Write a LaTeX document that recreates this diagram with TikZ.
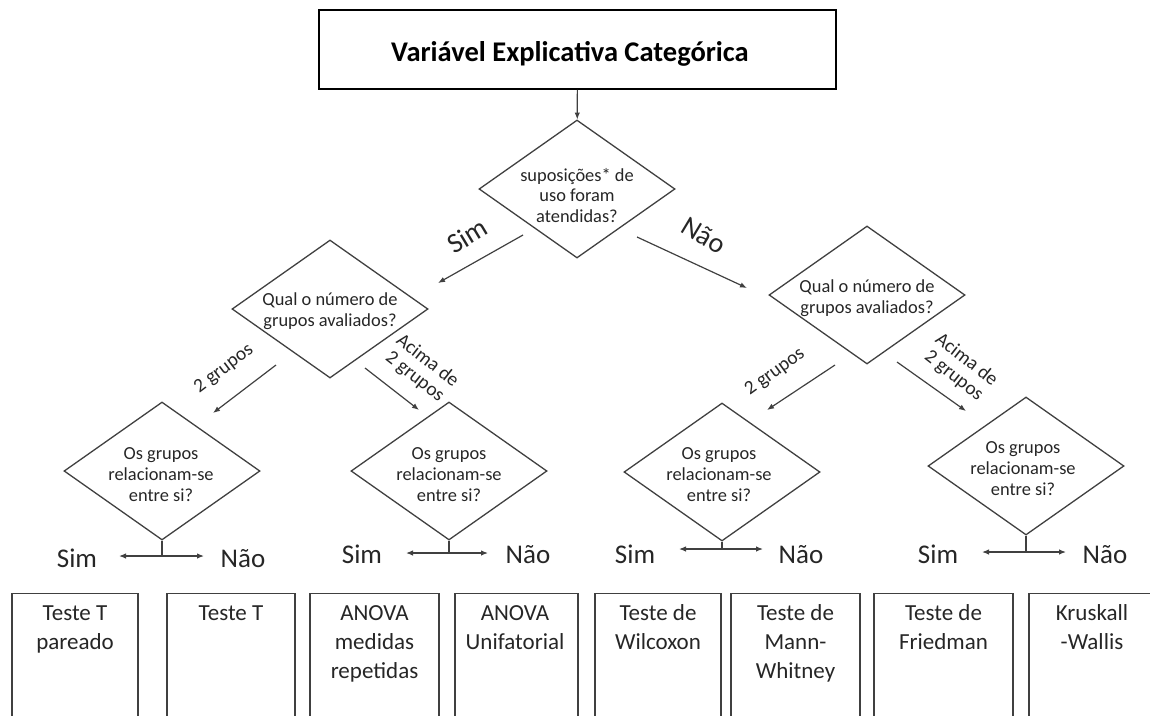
\documentclass[tikz,border=0pt]{standalone}
\usepackage{fontspec}
\setmainfont{Carlito}
\usetikzlibrary{shapes.geometric,arrows.meta}
\definecolor{ln}{HTML}{404040}
\definecolor{tx}{HTML}{262626}
\begin{document}
\begin{tikzpicture}[x=1pt,y=-1pt,
  dia/.style={draw=ln, line width=1.3pt, diamond, inner sep=0pt, minimum width=196pt, minimum height=138pt},
  dtxt/.style={text=tx, align=center, inner sep=0pt, anchor=north, font=\fontsize{18.4}{21.3}\selectfont},
  lbl/.style={text=tx, inner sep=0pt, align=center, font=\fontsize{19.5}{20.5}\selectfont},
  yn/.style={text=tx, inner sep=0pt, anchor=base, font=\fontsize{27}{30}\selectfont},
  ynrot/.style={text=tx, inner sep=0pt, font=\fontsize{28}{30}\selectfont},
  arr/.style={draw=ln, line width=1.2pt, -{Latex[length=7pt,width=5.5pt]}},
  stem/.style={draw=ln, line width=1.3pt},
  res/.style={draw=ln, line width=1.4pt, anchor=north, minimum height=150pt, inner sep=0pt},
  btxt/.style={text=tx, align=center, inner sep=0pt, anchor=north, font=\fontsize{23}{29}\selectfont}
]
\useasboundingbox (0,0) rectangle (1150,715);
\clip (0,0) rectangle (1150,715);

% top box
\node[draw=black, line width=1.6pt, minimum width=517pt, minimum height=79pt, inner sep=0pt] (top) at (577.5,49.5) {};
\node[anchor=base, inner sep=0pt, font=\fontsize{28.5}{30}\selectfont\bfseries] (title) at (570,61) {Variável Explicativa Categórica};

% diamonds
\node[dia] (d1) at (577,189) {};
\node[dia] (d2l) at (330,309) {};
\node[dia] (d2r) at (867,295) {};
\node[dia] (d3a) at (162,471) {};
\node[dia] (d3b) at (449,471) {};
\node[dia] (d3c) at (722,472) {};
\node[dia] (d3d) at (1026,466) {};

% diamond texts
\node[dtxt, font=\fontsize{18.4}{20.6}\selectfont] (t1) at (577,166.5) {\strut suposições* de\\uso foram\\atendidas?};
\node[dtxt] (t2l) at (330,290) {\strut Qual o número de\\grupos avaliados?};
\node[dtxt] (t2r) at (867,277) {\strut Qual o número de\\grupos avaliados?};
\node[dtxt] (t3a) at (161,444) {\strut Os grupos\\relacionam-se\\entre si?};
\node[dtxt] (t3b) at (449,444) {\strut Os grupos\\relacionam-se\\entre si?};
\node[dtxt] (t3c) at (719,444) {\strut Os grupos\\relacionam-se\\entre si?};
\node[dtxt] (t3d) at (1023,438) {\strut Os grupos\\relacionam-se\\entre si?};

% top arrow
\draw[arr] (top) -- (d1);

% first-level arrows
\coordinate (s1a) at (523,235); \coordinate (s1b) at (438,283);
\coordinate (n1a) at (637,237); \coordinate (n1b) at (747,288);
\draw[arr] (s1a) -- (s1b);
\draw[arr] (n1a) -- (n1b);
\node[ynrot, rotate=31] (lsim1) at (467,236) {Sim};
\node[ynrot, rotate=-31] (lnao1) at (704,235) {Não};

% second-level arrows (left)
\coordinate (g2la) at (276,365); \coordinate (g2lb) at (213,413);
\coordinate (a2la) at (365,368); \coordinate (a2lb) at (419,410);
\draw[arr] (g2la) -- (g2lb);
\draw[arr] (a2la) -- (a2lb);
\node[lbl, rotate=37] (lg2l) at (224,369) {2 grupos};
\node[lbl, rotate=-38] (la2l) at (421,369) {Acima de\\2 grupos};

% second-level arrows (right)
\coordinate (g2ra) at (835,365); \coordinate (g2rb) at (767,410);
\coordinate (a2ra) at (897,362); \coordinate (a2rb) at (966,411);
\draw[arr] (g2ra) -- (g2rb);
\draw[arr] (a2ra) -- (a2rb);
\node[lbl, rotate=36] (lg2r) at (775,372) {2 grupos};
\node[lbl, rotate=-38] (la2r) at (960,368) {Acima de\\2 grupos};

% stems and Sim/Nao arrows
\coordinate (ja) at (162,556); \coordinate (jas) at (119,556); \coordinate (jan) at (204,556);
\coordinate (jb) at (449,553); \coordinate (jbs) at (406,553); \coordinate (jbn) at (488,553);
\coordinate (jc) at (722,549); \coordinate (jcs) at (679,549); \coordinate (jcn) at (763,549);
\coordinate (jd) at (1026,552); \coordinate (jds) at (982,552); \coordinate (jdn) at (1066,552);
\foreach \d/\j in {d3a/ja,d3b/jb,d3c/jc,d3d/jd}{
  \draw[stem] (\d.south) -- (\j);
  \draw[arr] (\j) -- (\j s);
  \draw[arr] (\j) -- (\j n);
}
\node[yn] (sa) at (77,567) {Sim};   \node[yn] (na) at (243,567) {Não};
\node[yn] (sb) at (362,563) {Sim};  \node[yn] (nb) at (528,563) {Não};
\node[yn] (sc) at (635,563) {Sim};  \node[yn] (nc) at (801,563) {Não};
\node[yn] (sd) at (938,563) {Sim};  \node[yn] (nd) at (1105,563) {Não};

% result boxes
\node[res, minimum width=126pt] (b1) at (75,593) {};
\node[res, minimum width=128pt] (b2) at (231,593) {};
\node[res, minimum width=129pt] (b3) at (374.5,593) {};
\node[res, minimum width=123pt] (b4) at (516.5,593) {};
\node[res, minimum width=126pt] (b5) at (658,593) {};
\node[res, minimum width=129pt] (b6) at (795.5,593) {};
\node[res, minimum width=139pt] (b7) at (943.5,593) {};
\node[res, minimum width=141pt] (b8) at (1099.5,593) {};

\node[btxt] (r1) at (75,599.7) {\strut Teste T\\pareado};
\node[btxt] (r2) at (231,599.7) {\strut Teste T};
\node[btxt] (r3) at (374.5,599.7) {\strut ANOVA\\medidas\\repetidas};
\node[btxt] (r4) at (515,599.7) {\strut ANOVA\\Unifatorial};
\node[btxt] (r5) at (658,599.7) {\strut Teste de\\Wilcoxon};
\node[btxt] (r6) at (795.5,599.7) {\strut Teste de\\Mann-\\Whitney};
\node[btxt] (r7) at (943.5,599.7) {\strut Teste de\\Friedman};
\node[btxt] (r8) at (1092,599.7) {\strut Kruskall\\-Wallis};
\end{tikzpicture}
\end{document}
